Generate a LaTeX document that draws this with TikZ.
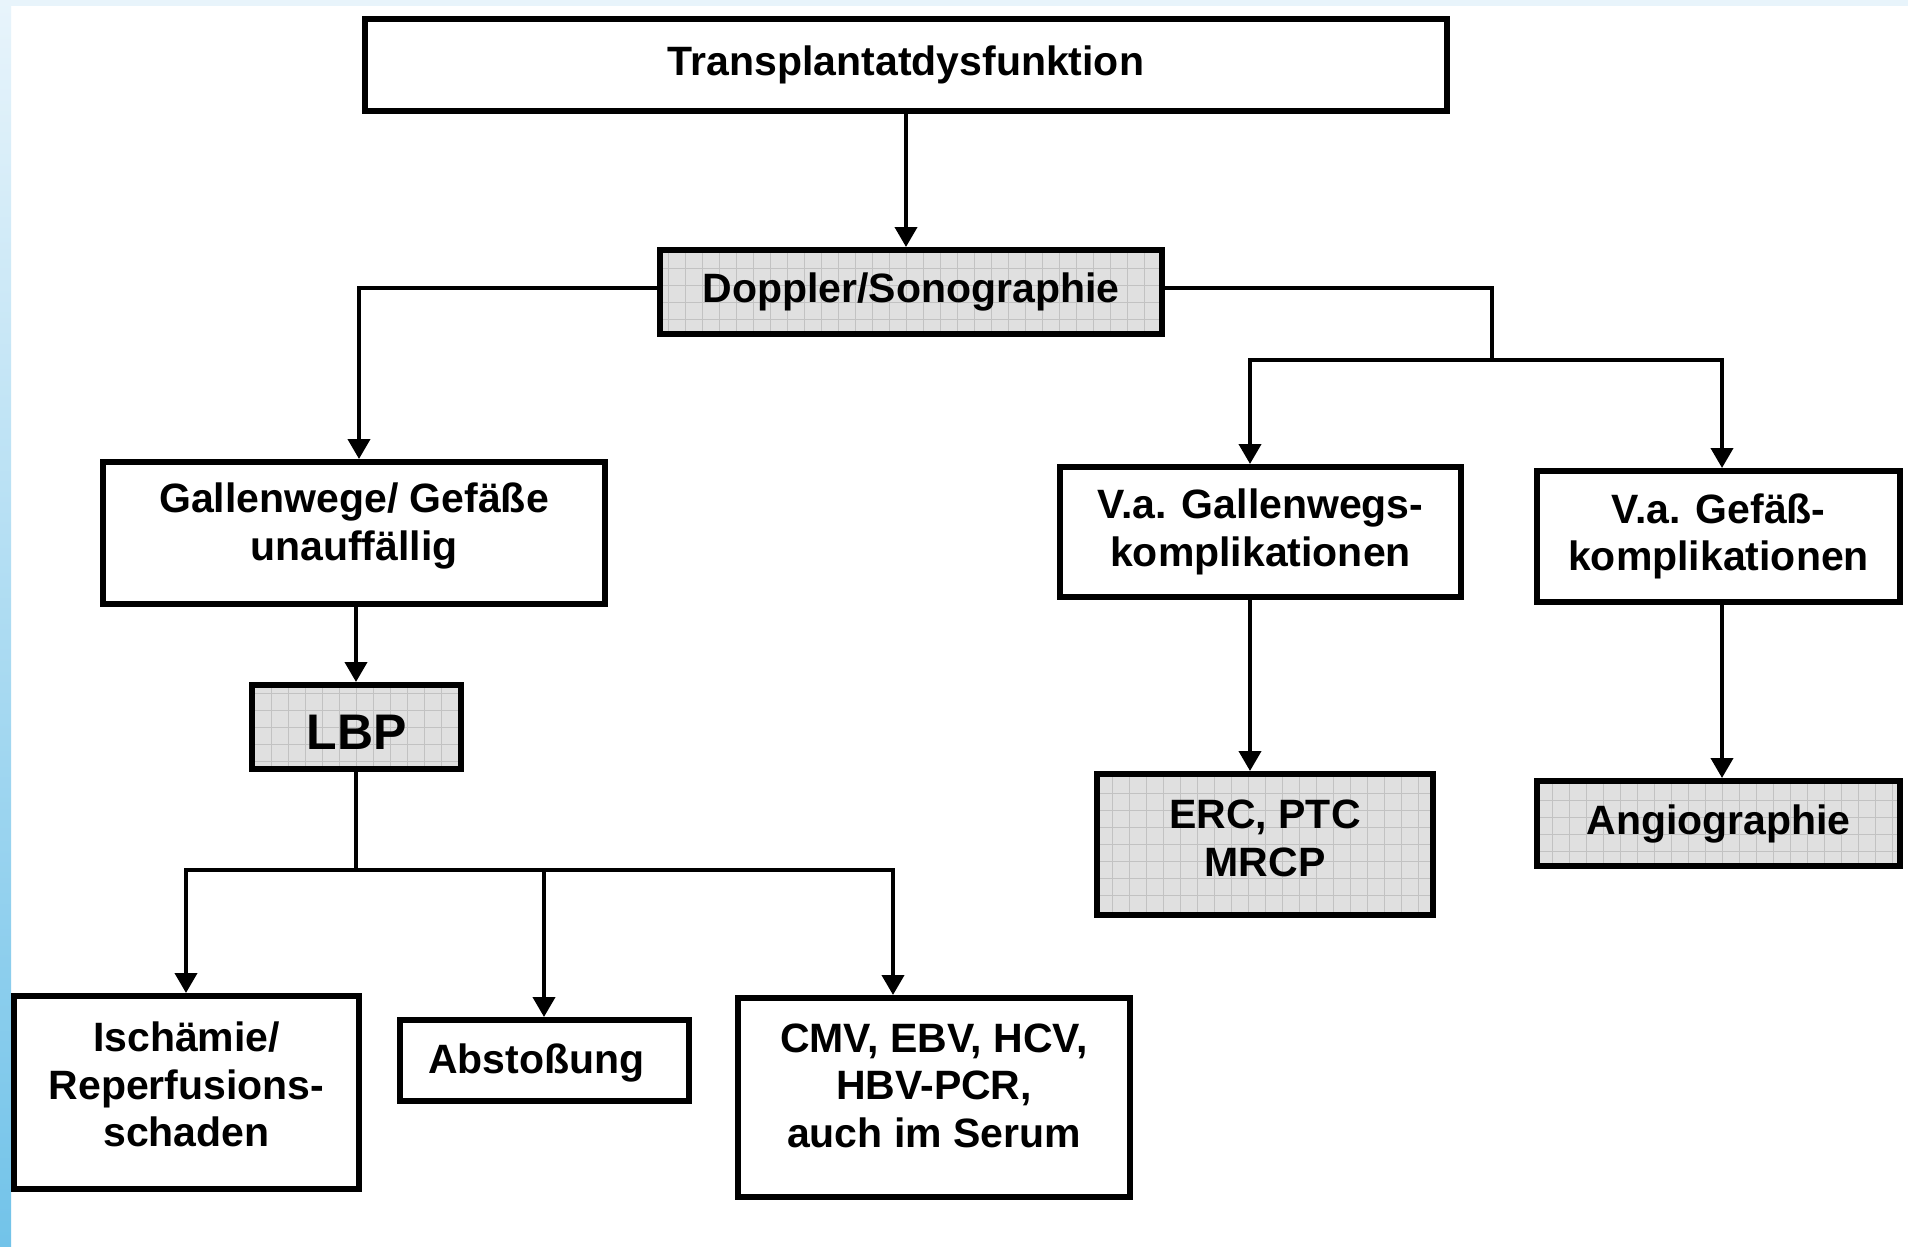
\documentclass[tikz,border=0pt]{standalone}
\usepackage{fontspec}
\setmainfont{Liberation Sans}
\usetikzlibrary{arrows.meta}
\definecolor{bandtop}{HTML}{E8F4FB}
\definecolor{bandbot}{HTML}{72C3E9}
\definecolor{shadefill}{HTML}{E0E0E0}
\definecolor{gridcol}{HTML}{C2C2C2}
\begin{document}
\begin{tikzpicture}[x=1pt,y=-1pt,
  box/.style={draw=black, line width=6pt, fill=white, inner sep=0pt, align=center,
    font=\bfseries\fontsize{41}{47.5}\selectfont},
  shaded/.style={box, fill=shadefill,
    path picture={\draw[gridcol, line width=0.9pt] (path picture bounding box.south west) grid[step=17pt] (path picture bounding box.north east);}},
  txt/.style={inner sep=0pt, align=center, font=\bfseries\fontsize{41}{47.5}\selectfont},
  line/.style={draw=black, line width=4pt, line cap=rect, line join=miter},
  conn/.style={line, -{Triangle[width=22pt,length=20pt]}}]
\useasboundingbox (0,0) rectangle (1908,1247);
\fill[white] (0,0) rectangle (1908,1247);
\fill[bandtop] (0,0) rectangle (1908,6);
\shade[top color=bandtop, bottom color=bandbot] (0,0) rectangle (11,1247);

% boxes
\node[box, minimum width=1082pt, minimum height=92pt] (top) at (906,65) {Transplantatdysfunktion};
\node[shaded, minimum width=502pt, minimum height=84pt] (dop) at (911,292) {Doppler/Sonographie};
\node[box, minimum width=502pt, minimum height=142pt] (gall) at (354,533) {};
\node[shaded, minimum width=209pt, minimum height=84pt] (lbp) at (356.5,727) {};
\node[box, minimum width=345pt, minimum height=193pt] (isch) at (186.5,1092.5) {};
\node[box, minimum width=289pt, minimum height=81pt] (abst) at (544.5,1060.5) {};
\node[box, minimum width=392pt, minimum height=199pt] (cmv) at (934,1097.5) {};
\node[box, minimum width=401pt, minimum height=130pt] (vag) at (1260.5,532) {V.a. Gallenwegs-\\komplikationen};
\node[box, minimum width=363pt, minimum height=131pt] (vgef) at (1718.5,536.5) {V.a. Gefäß-\\komplikationen};
\node[shaded, minimum width=336pt, minimum height=141pt] (erc) at (1265,844.5) {};
\node[shaded, minimum width=363pt, minimum height=85pt] (angio) at (1718.5,823.5) {Angiographie};

% texts placed with small offsets
\node[txt] (gallT) at ([yshift=7pt]gall.center) {Gallenwege/ Gefäße\\unauffällig};
\node[txt, font=\bfseries\fontsize{50}{58}\selectfont] (lbpT) at ([yshift=-5pt]lbp.center) {LBP};
\node[txt] (ischT) at ([yshift=8pt]isch.center) {Ischämie/\\Reperfusions-\\schaden};
\node[txt] (abstT) at ([xshift=-8pt,yshift=-2pt]abst.center) {Abstoßung};
\node[txt] (cmvT) at ([yshift=12pt]cmv.center) {CMV, EBV, HCV,\\HBV-PCR,\\auch im Serum};
\node[txt] (ercT) at ([yshift=6pt]erc.center) {ERC, PTC\\MRCP};

% helper coordinates
\coordinate (cD) at (0,288);
\coordinate (cA) at (359,0);
\coordinate (cR) at (1492,360);
\coordinate (cG) at (1250,360);
\coordinate (cF) at (1722,360);
\coordinate (cL) at (356,0);
\coordinate (cB) at (0,870);
\coordinate (cI) at (186,870);
\coordinate (cAb) at (544,870);
\coordinate (cC) at (893,870);

% connectors
\draw[conn] (top.south) -- (top.south |- dop.north);
\draw[conn] (dop.west |- cD) -| (gall.north -| cA);
\draw[line] (dop.east |- cD) -| (cR);
\draw[line] (cG) -- (cF);
\draw[conn] (cG) -- (vag.north -| cG);
\draw[conn] (cF) -- (vgef.north -| cF);
\draw[conn] (vag.south -| cG) -- (erc.north -| cG);
\draw[conn] (vgef.south -| cF) -- (angio.north -| cF);
\draw[conn] (gall.south -| cL) -- (lbp.north -| cL);
\draw[line] (lbp.south -| cL) -- (cL |- cB);
\draw[line] (cI) -- (cC);
\draw[conn] (cI) -- (isch.north -| cI);
\draw[conn] (cAb) -- (abst.north -| cAb);
\draw[conn] (cC) -- (cmv.north -| cC);
\end{tikzpicture}
\end{document}
